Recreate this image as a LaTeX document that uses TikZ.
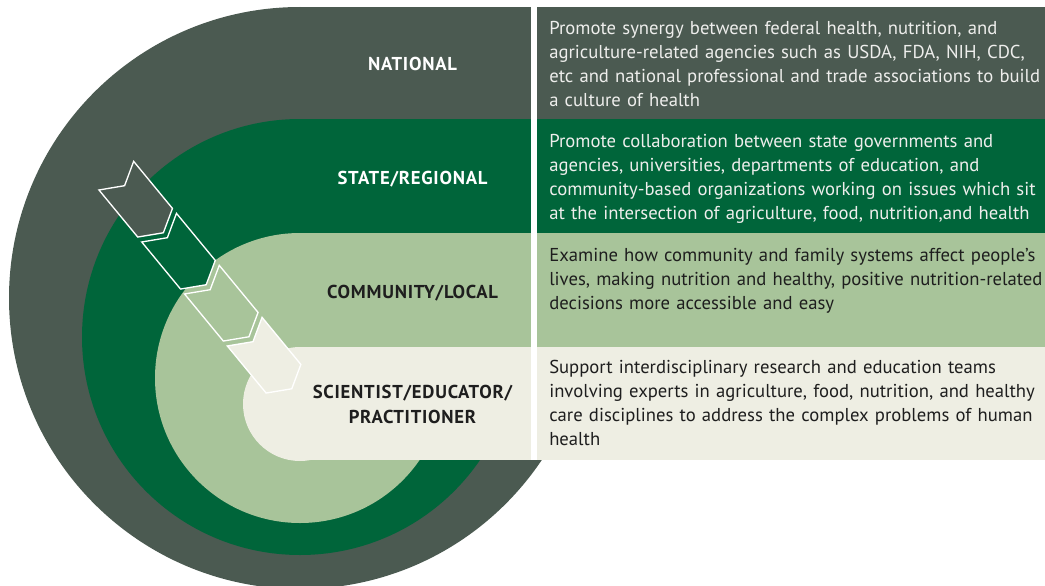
\documentclass[tikz,border=0pt]{standalone}
\usepackage{fontspec}
\setmainfont{PT Sans}
\newfontfamily\labelfont[LetterSpace=4]{PT Sans}
\usetikzlibrary{calc}
\definecolor{natgrey}{HTML}{4B5A51}
\definecolor{stategreen}{HTML}{00653A}
\definecolor{commgreen}{HTML}{A8C49A}
\definecolor{scicream}{HTML}{EEEEE3}
\definecolor{darktext}{HTML}{1E1E1E}
\definecolor{lighttext}{HTML}{EEEEEC}
\def\levelband[#1](#2:#3:#4){\fill[#1] (300,#2+#4) circle (#4); \fill[#1] (300,#2) rectangle (531,#3);}
\def\chevron[#1](#2){\draw[#1, shift={(#2)}, rotate=-50.5] (-30.5,-22.5) -- (30.5,-22.5) -- (43.5,0) -- (30.5,22.5) -- (-30.5,22.5) -- (-17.5,0) -- cycle;}
\tikzset{
  levellabel/.style={font=\labelfont\fontsize{14}{18.75}\selectfont\bfseries, align=center, inner sep=0pt},
  leveltext/.style={font=\fontsize{14}{18}\selectfont, text width=380pt, align=left, inner sep=0pt, anchor=base west},
  arrowpiece/.style={draw=white, line width=1pt, line join=miter}
}
\begin{document}
\begin{tikzpicture}[x=0.75pt, y=-0.75pt]
		%%%%% START %%%%%
		\useasboundingbox (0,0) rectangle (1045,585);
		
		% nested levels, outside in
		\levelband[natgrey](7:298:291)
		\levelband[stategreen](119:337:218)
		\levelband[commgreen](233:378:145)
		\levelband[scicream](347:460:57)
		\fill[white] (531,7) rectangle (537,460);
		
		% chevrons
		\chevron[arrowpiece, fill=natgrey](135.7,199.2)
		\chevron[arrowpiece, fill=stategreen](178.5,251.2)
		\chevron[arrowpiece, fill=commgreen](221.3,303.2)
		\chevron[arrowpiece, fill=scicream](264.1,355.2)
		
		\node[levellabel, text=white, anchor=base] (national) at (412.5,70.5) {NATIONAL};
		\node[levellabel, text=white, anchor=base] (state) at (412.5,184) {STATE/REGIONAL};
		\node[levellabel, text=darktext, anchor=base] (community) at (412.5,298) {COMMUNITY/LOCAL};
		\node[levellabel, text=darktext] (scientist) at (412.5,404) {SCIENTIST/EDUCATOR/\\PRACTITIONER};
		
		% right panels
		\fill[natgrey] (537,7) rectangle (1045,119);
		\fill[stategreen] (537,119) rectangle (1045,233);
		\fill[commgreen] (537,233) rectangle (1045,347);
		\fill[scicream] (537,347) rectangle (1045,460);
		
		\node[leveltext, text=lighttext] (nationaltext) at (549,35) {Promote synergy between federal health, nutrition, and\\agriculture-related agencies such as USDA, FDA, NIH, CDC,\\etc and national professional and trade associations to build\\a culture of health};
		\node[leveltext, text=lighttext] (statetext) at (549,147) {Promote collaboration between state governments and\\agencies, universities, departments of education, and\\community-based organizations working on issues which sit\\at the intersection of agriculture, food, nutrition,and health};
		\node[leveltext, text=darktext] (communitytext) at (549,261) {Examine how community and family systems affect people’s\\lives, making nutrition and healthy, positive nutrition-related\\decisions more accessible and easy};
		\node[leveltext, text=darktext] (scientisttext) at (549,373) {Support interdisciplinary research and education teams\\involving experts in agriculture, food, nutrition, and healthy\\care disciplines to address the complex problems of human\\health};
		
		%%%%% END %%%%%
	\end{tikzpicture}
\end{document}
